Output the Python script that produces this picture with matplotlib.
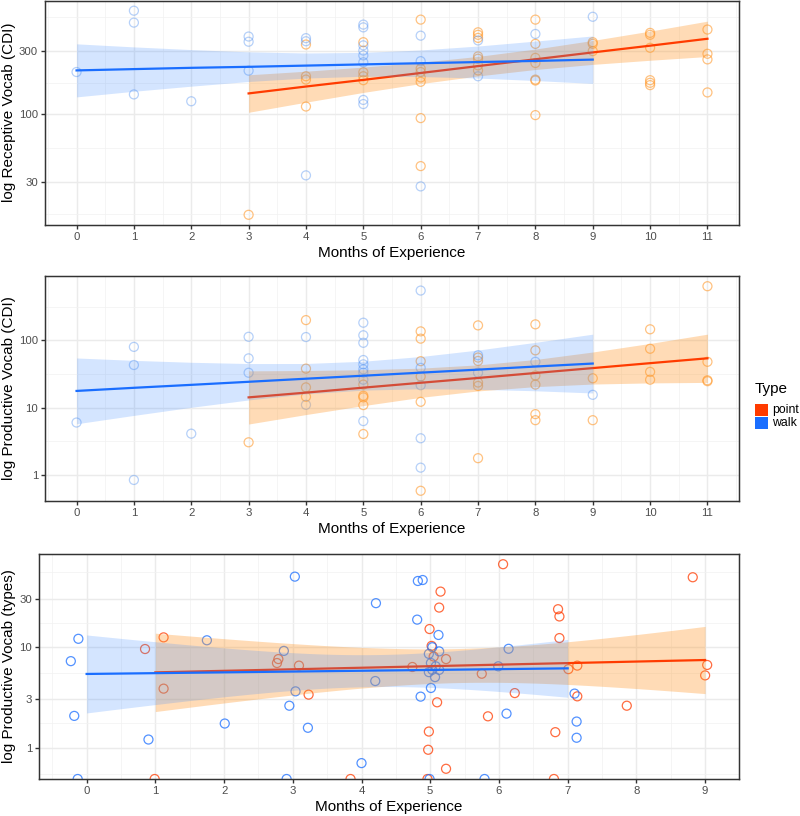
import numpy as np
import matplotlib
matplotlib.use("Agg")
import matplotlib.pyplot as plt
from matplotlib.patches import Rectangle

plt.rcParams['font.family'] = ['Liberation Sans', 'DejaVu Sans']

# line / key colours
point_col = "#FF3B00"
walk_col = "#1A6EFF"
point_fill = "#FF9A2E"
walk_fill = "#3D8BFF"

# panel 1: receptive vocab (CDI)
rec_point_x = [3, 4, 4, 4, 4, 5, 5, 5, 5, 6, 6, 6, 6, 6, 6, 6, 7, 7, 7, 7, 7, 7, 7,
               8, 8, 8, 8, 8, 8, 8, 9, 9, 9, 10, 10, 10, 10, 10, 10, 11, 11, 11, 11]
rec_point_y = [17, 339, 114, 194, 183, 353, 208, 194, 181, 525, 222, 209, 190, 176, 93, 40,
               420, 402, 381, 275, 264, 235, 215, 525, 343, 268, 245, 183, 180, 98,
               353, 343, 302, 416, 402, 320, 181, 173, 166, 441, 288, 261, 146]
rec_walk_x = [0, 1, 1, 1, 2, 3, 3, 3, 4, 4, 4, 5, 5, 5, 5, 5, 5, 5, 5, 6, 6, 6, 7, 7, 8, 9]
rec_walk_y = [209, 614, 498, 141, 125, 390, 356, 214, 379, 359, 34, 481, 458, 334, 305,
              280, 248, 128, 119, 396, 253, 28, 364, 194, 408, 552]

# lm fit + 95% band at each month (many points overlap,
# so the band can't be rebuilt from the visible circles)
rec_walk_band_x = [0, 1, 2, 3, 4, 5, 6, 7, 8, 9]
rec_walk_band_mid = [215, 220, 225, 229, 234, 239, 244, 249, 254, 260]
rec_walk_band_lo = [135, 149, 163, 177, 188, 194, 193, 188, 180, 171]
rec_walk_band_hi = [343, 325, 310, 298, 292, 295, 308, 330, 360, 394]
rec_point_band_x = [3, 4, 5, 6, 7, 8, 9, 10, 11]
rec_point_band_mid = [143.5, 162, 182, 205.5, 232, 261.5, 295, 332, 375]
rec_point_band_lo = [103, 123, 146, 170.5, 195, 218.5, 239, 257, 274.5]
rec_point_band_hi = [199, 212, 228, 248, 275, 313, 364, 429, 511]

# panel 2: productive vocab (CDI)
prod_point_x = [3, 4, 4, 4, 4, 5, 5, 5, 5, 5, 6, 6, 6, 6, 6, 6, 7, 7, 7, 7, 7, 7,
                8, 8, 8, 8, 8, 8, 9, 9, 10, 10, 10, 10, 11, 11, 11, 11]
prod_point_y = [3.05, 200, 38, 20, 14.5, 22, 15, 14.2, 10.9, 4.05, 136, 106, 49, 29, 12.2, 0.58,
                167, 55.5, 49.4, 23.6, 21, 1.77, 173, 71, 30, 22, 8.0, 6.5, 27.3, 6.5,
                146, 75, 34, 26, 638, 48, 25.5, 24.7]
prod_walk_x = [0, 1, 1, 1, 2, 3, 3, 3, 4, 4, 5, 5, 5, 5, 5, 5, 5, 5, 5,
               6, 6, 6, 6, 6, 7, 7, 8, 9]
prod_walk_y = [6.0, 80, 43, 0.84, 4.1, 113, 54, 33, 112, 11, 183, 119, 92, 51, 44, 37, 33, 26, 6.3,
               550, 39, 21.5, 3.5, 1.28, 60, 33, 48, 15.5]

prod_walk_band_x = [0, 1, 2, 3, 4, 5, 6, 7, 8, 9]
prod_walk_band_mid = [17.7, 19.7, 21.8, 24.2, 26.9, 29.8, 33.1, 36.7, 40.8, 45.2]
prod_walk_band_lo = [5.75, 7.66, 10.1, 13.0, 16.0, 18.2, 19.05, 18.7, 17.8, 16.5]
prod_walk_band_hi = [54.7, 50.4, 47.2, 45.2, 45.3, 48.9, 57.5, 71.8, 93.4, 123.6]
prod_point_band_x = [3, 4, 5, 6, 7, 8, 9, 10, 11]
prod_point_band_mid = [14.2, 16.7, 19.8, 23.4, 27.6, 32.7, 38.7, 45.8, 54.1]
prod_point_band_lo = [5.70, 7.88, 10.7, 14.2, 17.7, 20.5, 22.4, 23.3, 23.7]
prod_point_band_hi = [35.2, 35.6, 36.6, 38.6, 43.2, 51.9, 67.1, 90, 123.6]

# panel 3: productive vocab (types), x jittered as drawn, 0 = log(0)
types_walk_x = [-0.12, -0.23, -0.18, -0.13, 0.90, 1.75, 2.01, 2.87, 3.03, 3.04, 2.95, 3.22, 2.91,
                4.21, 4.20, 4.00, 4.82, 4.89, 4.81, 5.12, 5.03, 5.13, 4.98, 5.01, 5.08, 5.03,
                5.13, 4.98, 5.07, 5.01, 4.86, 4.99, 5.79, 6.14, 5.99, 6.11, 7.10, 7.13, 7.13]
types_walk_y = [12.0, 7.2, 2.06, 0, 1.2, 11.6, 1.73, 9.1, 49.7, 3.61, 2.6, 1.57, 0,
                27.1, 4.57, 0.70, 45, 46, 18.6, 13.1, 9.9, 9.0, 8.5, 6.9, 6.4, 5.9,
                5.9, 5.6, 5.0, 3.9, 3.2, 0, 0, 9.55, 6.4, 2.17, 3.43, 1.81, 1.25]
types_point_x = [0.85, 1.12, 1.12, 0.99, 2.79, 2.77, 3.09, 3.23, 3.84,
                 4.99, 5.02, 5.05, 5.23, 4.74, 5.15, 5.13, 5.10, 4.98, 4.97, 5.23, 4.96,
                 5.75, 5.84, 6.06, 6.23, 6.86, 6.88, 6.88, 7.01, 7.14, 7.14, 6.82, 6.80,
                 7.86, 8.82, 9.03, 9.00]
types_point_y = [9.5, 12.4, 3.84, 0, 7.55, 6.9, 6.5, 3.35, 0,
                 15, 10.2, 8.0, 7.55, 6.3, 35.3, 24.5, 2.81, 1.44, 0.95, 0.615, 0,
                 5.4, 2.04, 66, 3.47, 23.6, 20, 12.2, 6.0, 6.5, 3.22, 1.42, 0,
                 2.6, 49, 6.6, 5.2]

# log10 breaks (majors shown; neighbours used for minor grid)
rec_breaks = [10, 30, 100, 300, 1000]
prod_breaks = [0.1, 1, 10, 100, 1000]
types_breaks = [0.3, 1, 3, 10, 30, 100]


def t975(df):
    z = 1.959964
    return (z + (z**3 + z) / 4 / df + (5 * z**5 + 16 * z**3 + 3 * z) / 96 / df**2
            + (3 * z**7 + 19 * z**5 + 17 * z**3 - 15 * z) / 384 / df**3)


def lm_band(x, y):
    # linear fit with 95% confidence band, like geom_smooth(method = "lm")
    x = np.asarray(x, float)
    y = np.asarray(y, float)
    b, a = np.polyfit(x, y, 1)
    xs = np.linspace(x.min(), x.max(), 80)
    df = len(x) - 2
    s = np.sqrt(np.sum((y - (a + b * x))**2) / df)
    se = s * np.sqrt(1 / len(x) + (xs - x.mean())**2 / np.sum((x - x.mean())**2))
    fit = a + b * xs
    t = t975(df)
    return xs, fit, fit - t * se, fit + t * se


def log10z(v):
    v = np.asarray(v, float)
    return np.log10(v, where=v > 0, out=np.full(len(v), -np.inf))


def panel(ax, px, py, wx, wy, breaks, ylabel, faded, bands=None):
    lpy = log10z(py)
    lwy = log10z(wy)
    px = np.asarray(px, float)
    wx = np.asarray(wx, float)
    fin = np.concatenate([lpy[np.isfinite(lpy)], lwy[np.isfinite(lwy)]])
    lo, hi = fin.min(), fin.max()
    ylo, yhi = lo - 0.05 * (hi - lo), hi + 0.05 * (hi - lo)
    allx = np.concatenate([px, wx])
    xlo, xhi = allx.min(), allx.max()
    xpad = 0.05 * (xhi - xlo)

    if faded:
        ax.scatter(px, lpy, s=42, facecolors='none', edgecolors=point_fill, alpha=0.6,
                   linewidths=0.9, zorder=2)
        ax.scatter(wx, lwy, s=42, facecolors='none', edgecolors="#4A8CF0", alpha=0.4,
                   linewidths=0.9, zorder=2)
    else:
        # -Inf (zero) values sit on the panel edge
        for xs_, ys_, c in ((px, lpy, point_col), (wx, lwy, walk_col)):
            yy = np.where(np.isfinite(ys_), ys_, ylo)
            ax.scatter(xs_, yy, s=42, facecolors='none', edgecolors=c, alpha=0.75,
                       linewidths=0.9, zorder=2)

    z = 3
    groups = ((px, lpy, point_fill, point_col, 0.35), (wx, lwy, walk_fill, walk_col, 0.22))
    for k, (xs_, ys_, fc, lc, al) in enumerate(groups):
        if bands is not None:
            bx, bmid, blo, bhi = bands[k]
            gx = np.asarray(bx, float)
            fit, lo_b, hi_b = np.log10(bmid), np.log10(blo), np.log10(bhi)
        else:
            m = np.isfinite(ys_)
            # smooth uses the un-jittered months
            gx, fit, lo_b, hi_b = lm_band(np.round(xs_[m]), ys_[m])
        ax.fill_between(gx, lo_b, hi_b, color=fc, alpha=al, lw=0, zorder=z)
        ax.plot(gx, fit, color=lc, lw=1.6, zorder=z + 1)
        z += 2

    lb = np.log10(breaks)
    ax.set_yticks(lb)
    ax.set_yticklabels([f"{b:g}" for b in breaks])
    ax.set_yticks((lb[:-1] + lb[1:]) / 2, minor=True)
    xt = np.arange(np.ceil(xlo), np.floor(xhi) + 1)
    ax.set_xticks(xt)
    ax.set_xticklabels([f"{int(v)}" for v in xt])
    ax.set_xticks(np.arange(np.ceil(xlo) - 0.5, xhi + 1, 1), minor=True)
    ax.set_xlim(xlo - xpad, xhi + xpad)
    ax.set_ylim(ylo, yhi)

    ax.grid(which='major', color='#EBEBEB', lw=1.07)
    ax.grid(which='minor', color='#F2F2F2', lw=0.55)
    ax.set_axisbelow(True)
    ax.tick_params(which='major', length=2.75, width=1.0, color='#333333',
                   labelsize=8.2, labelcolor='#4D4D4D', pad=2.2)
    ax.tick_params(which='minor', length=0)
    for sp in ax.spines.values():
        sp.set_color('#333333')
        sp.set_linewidth(1.07)
    ax.set_xlabel("Months of Experience", fontsize=11, labelpad=2.75)
    ax.set_ylabel(ylabel, fontsize=11, labelpad=2.5)


W, H = 800, 816
fig = plt.figure(figsize=(W / 100, H / 100), dpi=100)


def rect(l, t, r, b):
    return [l / W, (H - b) / H, (r - l) / W, (b - t) / H]


ax1 = fig.add_axes(rect(45, 0.5, 739, 225))
panel(ax1, rec_point_x, rec_point_y, rec_walk_x, rec_walk_y, rec_breaks,
      "log Receptive Vocab (CDI)", True,
      bands=[(rec_point_band_x, rec_point_band_mid, rec_point_band_lo, rec_point_band_hi),
             (rec_walk_band_x, rec_walk_band_mid, rec_walk_band_lo, rec_walk_band_hi)])
ax2 = fig.add_axes(rect(45, 276, 739, 501))
panel(ax2, prod_point_x, prod_point_y, prod_walk_x, prod_walk_y, prod_breaks,
      "log Productive Vocab (CDI)", True,
      bands=[(prod_point_band_x, prod_point_band_mid, prod_point_band_lo, prod_point_band_hi),
             (prod_walk_band_x, prod_walk_band_mid, prod_walk_band_lo, prod_walk_band_hi)])
ax3 = fig.add_axes(rect(39, 554, 739, 779))
panel(ax3, types_point_x, types_point_y, types_walk_x, types_walk_y, types_breaks,
      "log Productive Vocab (types)", False)

# legend
fig.text(755 / W, 1 - 393 / H, "Type", fontsize=11, ha='left', va='baseline')
for i, (lab, c) in enumerate((("point", point_col), ("walk", walk_col))):
    top = 404 + i * 12.5
    fig.patches.append(Rectangle((755 / W, 1 - (top + 12) / H), 13 / W, 12 / H,
                                 transform=fig.transFigure, color=c, lw=0))
    fig.text(772 / W, 1 - (top + 6) / H, lab, fontsize=8.8, ha='left', va='center')

fig.savefig("out.png", dpi=100)
